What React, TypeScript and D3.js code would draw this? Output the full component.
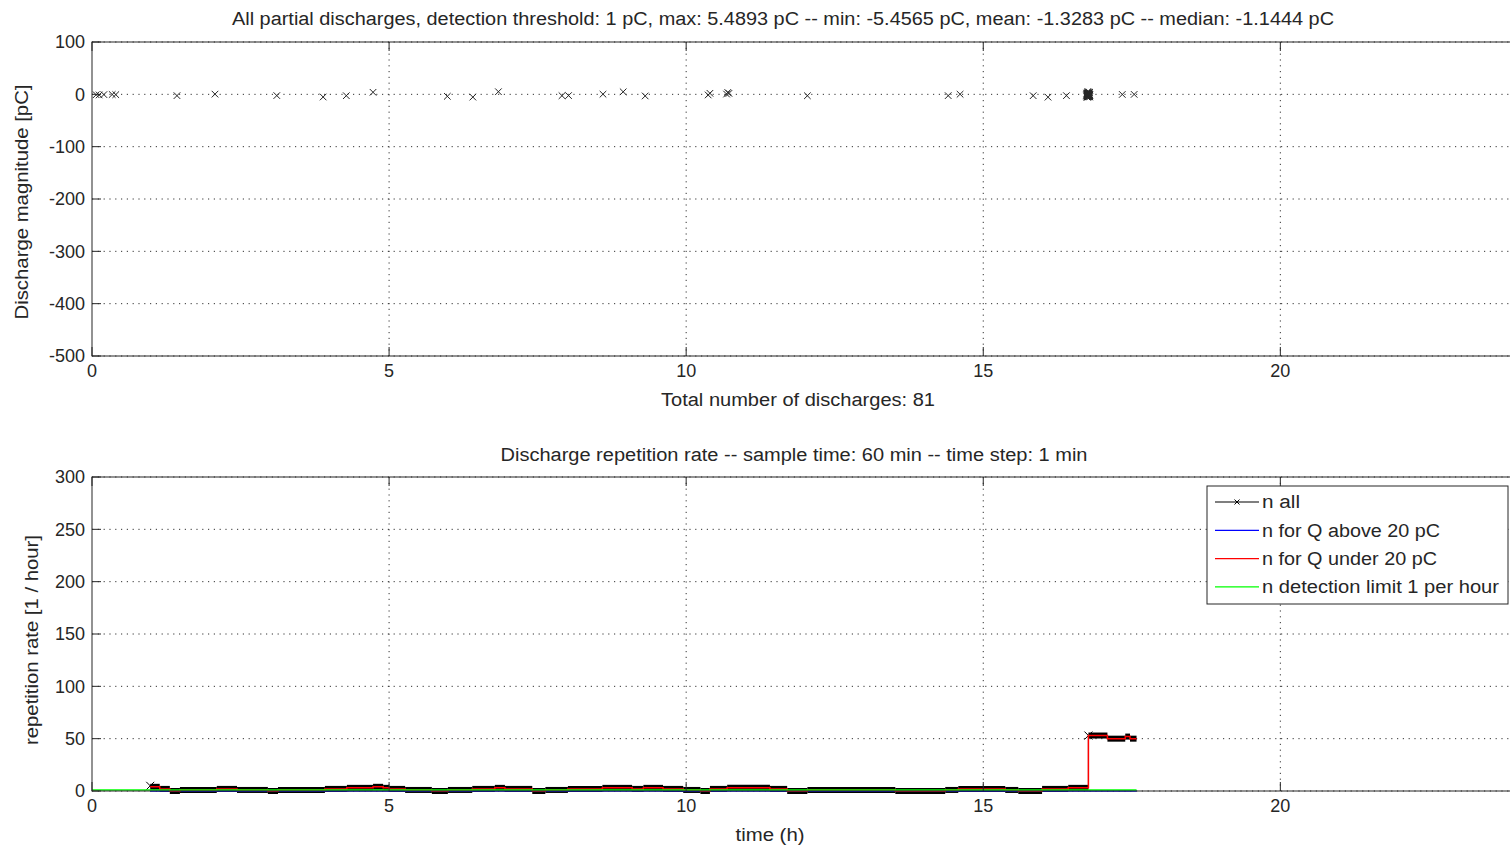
import React from "react";
import * as d3 from "d3";

// ---- data ----
const hourTicks = [0, 5, 10, 15, 20];
const chargeTicks = [100, 0, -100, -200, -300, -400, -500];
const rateTicks = [0, 50, 100, 150, 200, 250, 300];

// discharge times (h) and magnitudes (pC), 81 events
const dischargeTime = [
  0.07, 0.12, 0.2, 0.34, 0.4, 1.43, 2.07, 3.11, 3.89, 4.28, 4.73, 5.98, 6.41, 6.84,
  7.91, 8.02, 8.6, 8.94, 9.31, 10.37, 10.4, 10.68, 10.7, 10.72, 12.04, 14.41, 14.61,
  15.84, 16.09, 16.4,
  16.74, 16.741, 16.743, 16.744, 16.746, 16.747, 16.749, 16.75, 16.751, 16.752,
  16.753, 16.754, 16.755, 16.756, 16.757, 16.758, 16.759, 16.76, 16.761, 16.762,
  16.763, 16.764, 16.765, 16.766, 16.767, 16.768, 16.769, 16.77, 16.771, 16.772,
  16.773, 16.774, 16.775, 16.776, 16.777, 16.778, 16.779, 16.78, 16.781, 16.782,
  16.783, 16.784, 16.785, 16.786, 16.787, 16.788, 16.789, 16.79, 16.791,
  17.34, 17.54,
];
const dischargeCharge = [
  -0.8, -1.2, -0.5, -0.3, -0.6, -2.5, 0.4, -2.4, -5.1, -2.6, 3.9, -3.8, -5.3, 5.0,
  -2.6, -2.4, 0.3, 4.8, -3.1, -1.2, 2.0, 0.5, 3.6, 1.8, -2.7, -2.5, 0.2,
  -2.6, -5.4, -2.5,
  -1.1, -3.2, 2.4, -4.6, -0.9, 1.5, -2.2, -5.4565, 0.8, -1.6, -3.8, 3.1, -1.3, -0.4,
  -2.9, 1.2, -4.1, -1.8, 5.4893, -2.5, -0.7, -3.5, 2.2, -1.4, -4.9, 0.3, -2.1, -1.0,
  -3.3, 4.2, -1.9, -0.6, -2.7, 1.7, -4.3, -1.2, -0.2, -3.0, 2.8, -1.5, -2.4, 0.6,
  -3.9, -1.1, -0.8, -2.0, 3.6, -1.7, -5.0,
  -0.2, -0.1,
];

// discharge repetition rate (1/hour), step changes
const rateTime = [
  0.98, 1.14, 1.31, 1.48, 2.1, 2.44, 2.96, 3.13, 3.92, 4.29, 4.73, 4.9, 5.0, 5.27,
  5.72, 5.99, 6.4, 6.78, 6.95, 7.41, 7.63, 8.01, 8.59, 9.09, 9.28, 9.61, 9.95,
  10.24, 10.4, 10.69, 11.41, 11.7, 12.04, 13.52, 14.36, 14.58, 15.37, 15.59,
  15.99, 16.43, 16.77, 17.09, 17.39, 17.47, 17.58,
];
const rateAll = [
  4, 2, 0, 1, 2, 1, 0, 1, 2, 3, 4, 3, 2, 1,
  0, 1, 2, 3, 2, 0, 1, 2, 3, 2, 3, 2, 1,
  0, 2, 3, 2, 0, 1, 0, 1, 2, 1, 0,
  2, 3, 53, 50, 52, 50, 50,
];
const rateAbove = [0, 0];
const rateAboveTime = [0.98, 17.58];
const limitTime = [0, 17.58];
const limitValue = [1, 1];

const legendItems = [
  { label: "n all", color: "#000000", marker: true, len: 38 },
  { label: "n for Q above 20 pC", color: "#0000ff", marker: false, len: 178 },
  { label: "n for Q under 20 pC", color: "#ff0000", marker: false, len: 175 },
  { label: "n detection limit 1 per hour", color: "#00ff00", marker: false, len: 237 },
];

const FONT = "'Liberation Sans', Arial, sans-serif";
const AX = "#262626";
const GRID = "#333333";

const W = 1510;
const H = 851;
const left = 92;
const right = 1518;
const top1 = 42;
const bot1 = 356;
const top2 = 477;
const bot2 = 791;

function XMark({ x, y, s = 3, color = "#262626", w = 1 }) {
  return (
    <path
      d={`M${x - s},${y - s}L${x + s},${y + s}M${x - s},${y + s}L${x + s},${y - s}`}
      stroke={color}
      strokeWidth={w}
      fill="none"
    />
  );
}

function Grid({ x, y, yTicks, top, bottom }) {
  return (
    <g>
      {hourTicks.slice(1).map((t) => (
        <line key={"gx" + t} x1={x(t)} x2={x(t)} y1={top} y2={bottom}
          stroke={GRID} strokeDasharray="1.2,4.6" strokeWidth={1} />
      ))}
      {yTicks.map((t) => (
        <line key={"gy" + t} x1={left} x2={right} y1={y(t)} y2={y(t)}
          stroke={GRID} strokeDasharray="1.2,4.6" strokeWidth={1} />
      ))}
    </g>
  );
}

function Frame({ x, y, yTicks, top, bottom }) {
  const tl = 9;
  return (
    <g>
      <rect x={left} y={top} width={right - left} height={bottom - top}
        fill="none" stroke={AX} strokeWidth={1} />
      {hourTicks.map((t) => (
        <g key={"tx" + t}>
          <line x1={x(t)} x2={x(t)} y1={bottom} y2={bottom - tl} stroke={AX} />
          <line x1={x(t)} x2={x(t)} y1={top} y2={top + tl} stroke={AX} />
          <text x={x(t)} y={bottom + 21} textAnchor="middle" fontSize={18}
            fontFamily={FONT} fill={AX}>{t}</text>
        </g>
      ))}
      {yTicks.map((t) => (
        <g key={"ty" + t}>
          <line x1={left} x2={left + tl} y1={y(t)} y2={y(t)} stroke={AX} />
          <text x={left - 7} y={y(t)} dy="0.35em" textAnchor="end" fontSize={18}
            fontFamily={FONT} fill={AX}>{t}</text>
        </g>
      ))}
    </g>
  );
}

export default function App() {
  const x = d3.scaleLinear().domain([0, 24]).range([left, right]);
  const y1 = d3.scaleLinear().domain([-500, 100]).range([bot1, top1]);
  const y2 = d3.scaleLinear().domain([0, 300]).range([bot2, top2]);

  const step = d3
    .line<[number, number]>()
    .x((d) => x(d[0]))
    .y((d) => y2(d[1]))
    .curve(d3.curveStepAfter);

  const allPts = rateTime.map((t, i) => [t, rateAll[i]] as [number, number]);
  const abovePts = rateAboveTime.map((t, i) => [t, rateAbove[i]] as [number, number]);
  const limitPts = limitTime.map((t, i) => [t, limitValue[i]] as [number, number]);

  const txt = (props, s) => (
    <text fontFamily={FONT} fontSize={18} fill={AX} textAnchor="middle" {...props}>{s}</text>
  );

  return (
    <svg width={W} height={H} style={{ position: "absolute", left: 0, top: 0, background: "#fff" }}>
      <rect width={W} height={H} fill="#fff" />

      {/* top: all partial discharges */}
      <Grid x={x} y={y1} yTicks={chargeTicks} top={top1} bottom={bot1} />
      <g>
        {dischargeTime.map((t, i) => (
          <XMark key={i} x={x(t)} y={y1(dischargeCharge[i])} s={3.3} />
        ))}
      </g>
      <Frame x={x} y={y1} yTicks={chargeTicks} top={top1} bottom={bot1} />
      {txt({ x: 783, y: 25, textLength: 1102, lengthAdjust: "spacingAndGlyphs" },
        "All partial discharges, detection threshold: 1 pC, max: 5.4893 pC -- min: -5.4565 pC, mean: -1.3283 pC -- median: -1.1444 pC")}
      {txt({ x: 798, y: 406, textLength: 274, lengthAdjust: "spacingAndGlyphs" }, "Total number of discharges: 81")}
      {txt({ transform: `translate(28,${(top1 + bot1) / 2 + 3}) rotate(-90)`, textLength: 235, lengthAdjust: "spacingAndGlyphs" },
        "Discharge magnitude [pC]")}

      {/* bottom: repetition rate */}
      <Grid x={x} y={y2} yTicks={rateTicks} top={top2} bottom={bot2} />
      {/* n all: thin step line plus the dense x markers, drawn as a thick band per level */}
      <path d={step(allPts) || ""} fill="none" stroke="#000" strokeWidth={1} />
      {allPts.slice(0, -1).map((d, i) => (
        <line key={"b" + i} x1={x(d[0])} x2={x(allPts[i + 1][0])} y1={y2(d[1])} y2={y2(d[1])}
          stroke="#000" strokeWidth={6} />
      ))}
      <XMark x={x(rateTime[0])} y={y2(rateAll[0]) - 1} s={4} color="#000" />
      <XMark x={x(16.77)} y={y2(53)} s={4} color="#000" />
      <path d={step(abovePts) || ""} fill="none" stroke="#0000ff" strokeWidth={1.5} />
      <path d={step(allPts) || ""} fill="none" stroke="#ff0000" strokeWidth={1.5} />
      <path d={step(limitPts) || ""} fill="none" stroke="#00ff00" strokeWidth={1.5} />
      <Frame x={x} y={y2} yTicks={rateTicks} top={top2} bottom={bot2} />
      {txt({ x: 794, y: 461, textLength: 587, lengthAdjust: "spacingAndGlyphs" },
        "Discharge repetition rate -- sample time: 60 min -- time step: 1 min")}
      {txt({ x: 770, y: 841, textLength: 69, lengthAdjust: "spacingAndGlyphs" }, "time (h)")}
      {txt({ transform: `translate(38,${(top2 + bot2) / 2 + 6}) rotate(-90)`, textLength: 210, lengthAdjust: "spacingAndGlyphs" },
        "repetition rate [1 / hour]")}

      {/* legend */}
      <g>
        <rect x={1207} y={486} width={301} height={118} fill="#fff" stroke={AX} strokeWidth={1} />
        {legendItems.map((d, i) => {
          const ly = 502 + i * 28.3;
          return (
            <g key={d.label}>
              <line x1={1215} x2={1259} y1={ly} y2={ly} stroke={d.color} strokeWidth={1.2} />
              {d.marker && <XMark x={1237} y={ly} s={2.5} color="#000" />}
              <text x={1262} y={ly} dy="0.35em" fontFamily={FONT} fontSize={18} fill={AX}
                textLength={d.len} lengthAdjust="spacingAndGlyphs">{d.label}</text>
            </g>
          );
        })}
      </g>
    </svg>
  );
}
